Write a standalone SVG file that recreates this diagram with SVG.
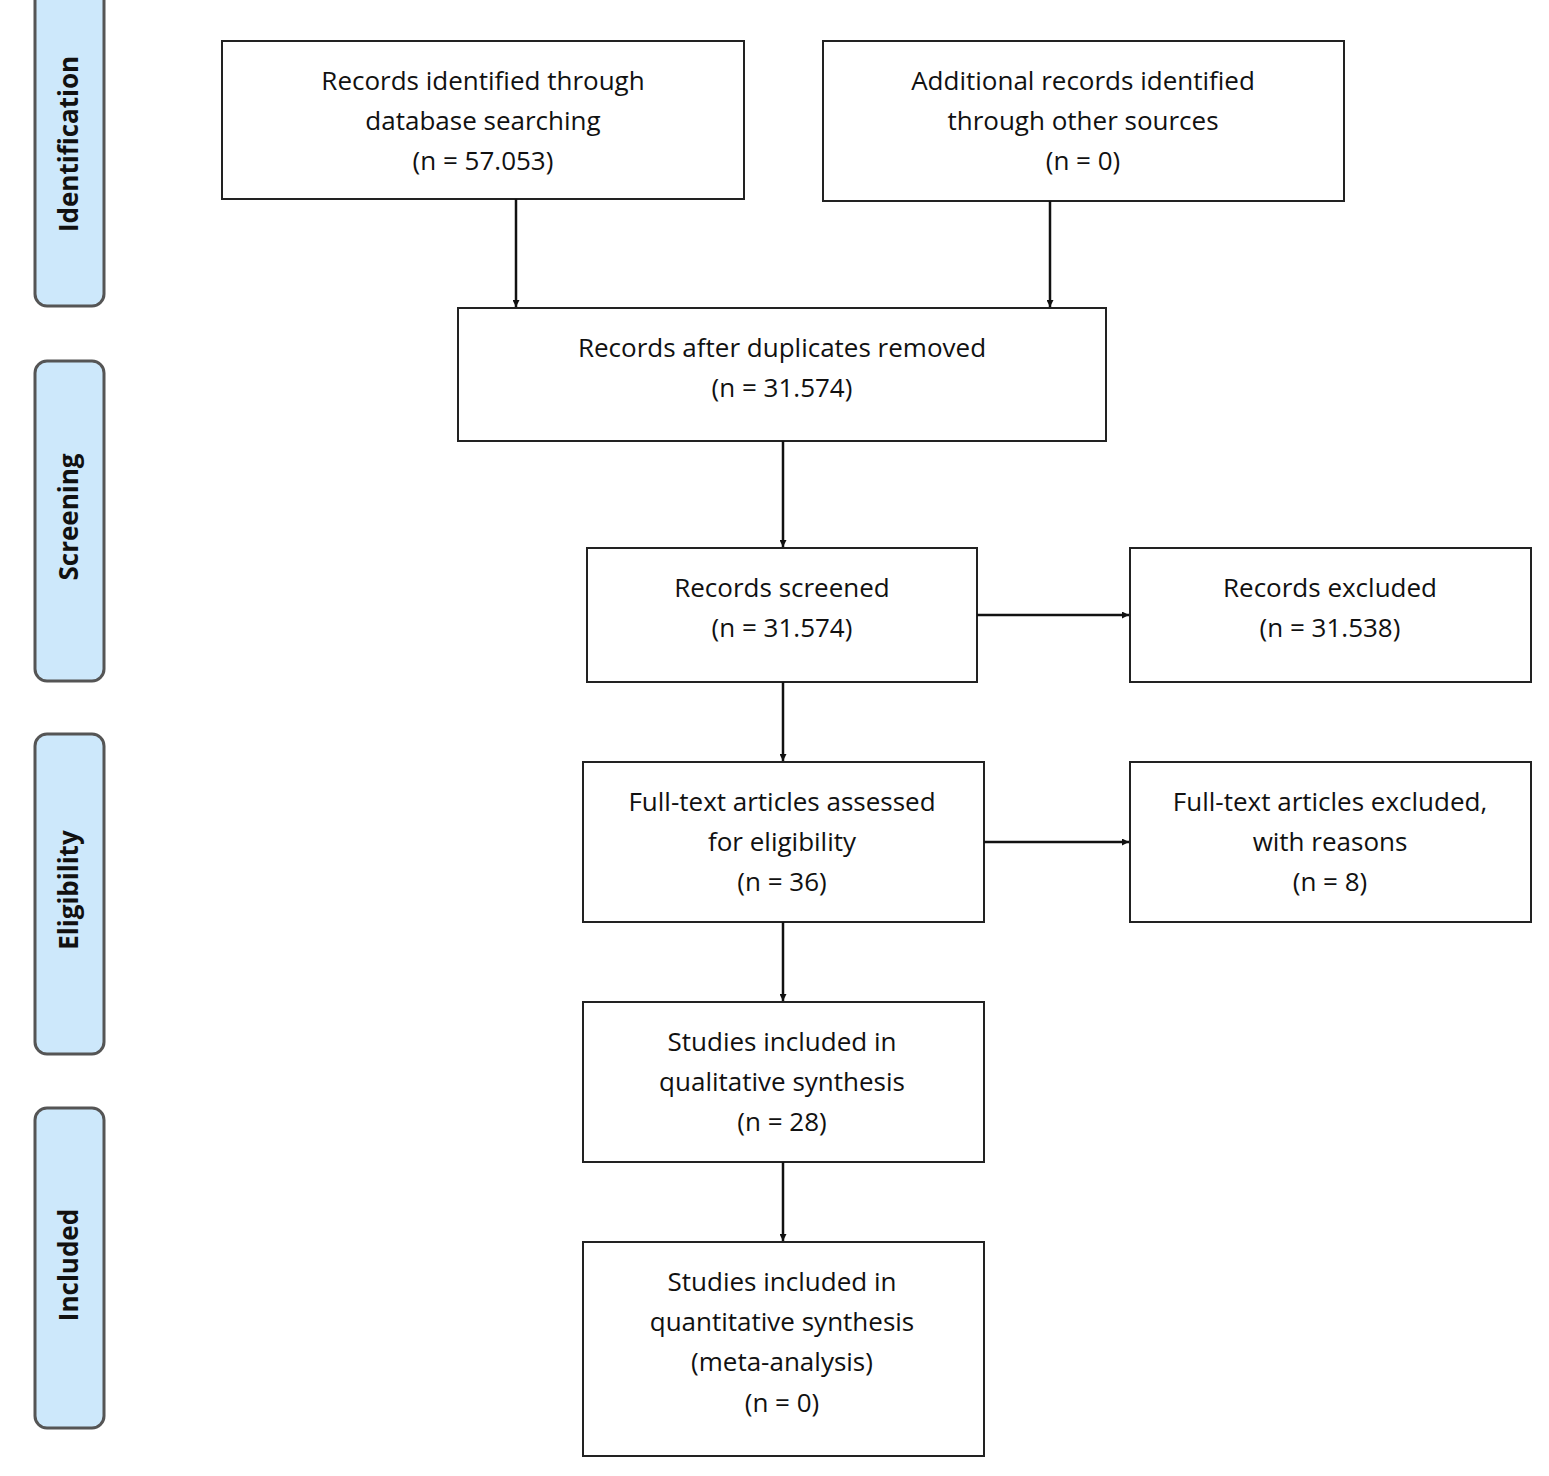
<svg xmlns="http://www.w3.org/2000/svg" width="1549" height="1476" viewBox="0 0 1549 1476">
<style>
.b{fill:#fff;stroke:#222;stroke-width:2}
.s{fill:#cde8fb;stroke:#555;stroke-width:3}
.t{font-family:"Open Sans","Noto Sans",sans-serif;font-size:26px;fill:#111;text-anchor:middle;dominant-baseline:middle}
.st{font-family:"Open Sans","Noto Sans",sans-serif;font-size:26px;font-weight:bold;fill:#111;text-anchor:middle;dominant-baseline:middle}
.c{stroke:#111;stroke-width:2.5;fill:none;marker-end:url(#a)}
</style>
<defs><marker id="a" viewBox="0 0 10 10" refX="10" refY="5" markerWidth="7" markerHeight="7" markerUnits="userSpaceOnUse" orient="auto"><path d="M0,0L10,5L0,10z" fill="#111"/></marker></defs>
<rect width="1549" height="1476" fill="#fff"/>
<g id="stage-identification"><rect class="s" x="35" y="-14" width="69" height="320" rx="12"/><text class="st" transform="translate(71,144) rotate(-90)">Identification</text></g>
<g id="stage-screening"><rect class="s" x="35" y="361" width="69" height="320" rx="12"/><text class="st" transform="translate(71,517) rotate(-90)">Screening</text></g>
<g id="stage-eligibility"><rect class="s" x="35" y="734" width="69" height="320" rx="12"/><text class="st" transform="translate(71,890) rotate(-90)">Eligibility</text></g>
<g id="stage-included"><rect class="s" x="35" y="1108" width="69" height="320" rx="12"/><text class="st" transform="translate(71,1265) rotate(-90)">Included</text></g>
<g id="n1"><rect class="b" x="222" y="41" width="522" height="158"/><text class="t" x="483" y="83">Records identified through</text><text class="t" x="483" y="123">database searching</text><text class="t" x="483" y="163">(n =   57.053)</text></g>
<g id="n2"><rect class="b" x="823" y="41" width="521" height="160"/><text class="t" x="1083" y="83">Additional records identified</text><text class="t" x="1083" y="123">through other sources</text><text class="t" x="1083" y="163">(n =  0)</text></g>
<g id="n3"><rect class="b" x="458" y="308" width="648" height="133"/><text class="t" x="782" y="350">Records after duplicates removed</text><text class="t" x="782" y="390">(n = 31.574)</text></g>
<g id="n4"><rect class="b" x="587" y="548" width="390" height="134"/><text class="t" x="782" y="590">Records screened</text><text class="t" x="782" y="630">(n =  31.574)</text></g>
<g id="n5"><rect class="b" x="1130" y="548" width="401" height="134"/><text class="t" x="1330" y="590">Records excluded</text><text class="t" x="1330" y="630">(n =  31.538)</text></g>
<g id="n6"><rect class="b" x="583" y="762" width="401" height="160"/><text class="t" x="782" y="804">Full-text articles assessed</text><text class="t" x="782" y="844">for eligibility</text><text class="t" x="782" y="884">(n =  36)</text></g>
<g id="n7"><rect class="b" x="1130" y="762" width="401" height="160"/><text class="t" x="1330" y="804">Full-text articles excluded,</text><text class="t" x="1330" y="844">with reasons</text><text class="t" x="1330" y="884">(n =  8)</text></g>
<g id="n8"><rect class="b" x="583" y="1002" width="401" height="160"/><text class="t" x="782" y="1044">Studies included in</text><text class="t" x="782" y="1084">qualitative synthesis</text><text class="t" x="782" y="1124">(n =  28)</text></g>
<g id="n9"><rect class="b" x="583" y="1242" width="401" height="214"/><text class="t" x="782" y="1284">Studies included in</text><text class="t" x="782" y="1324">quantitative synthesis</text><text class="t" x="782" y="1364">(meta-analysis)</text><text class="t" x="782" y="1405">(n =  0)</text></g>
<g id="connectors">
<line class="c" x1="516" y1="199" x2="516" y2="307"/>
<line class="c" x1="1050" y1="201" x2="1050" y2="307"/>
<line class="c" x1="783" y1="441" x2="783" y2="547"/>
<line class="c" x1="977" y1="615" x2="1129" y2="615"/>
<line class="c" x1="783" y1="682" x2="783" y2="761"/>
<line class="c" x1="984" y1="842" x2="1129" y2="842"/>
<line class="c" x1="783" y1="922" x2="783" y2="1001"/>
<line class="c" x1="783" y1="1162" x2="783" y2="1241"/>
</g>
</svg>
